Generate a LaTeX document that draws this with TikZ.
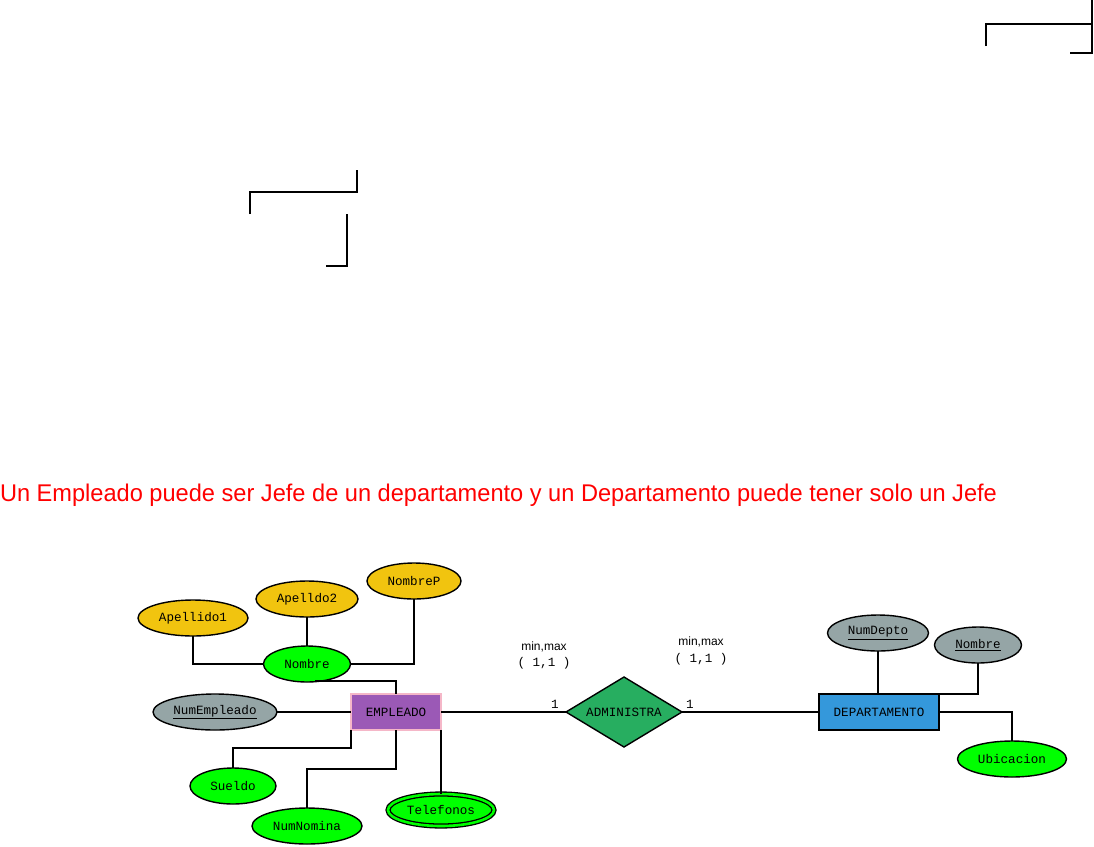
\documentclass[tikz,border=0pt]{standalone}
\usepackage{fontspec}
\setmainfont{Liberation Sans}
\newfontfamily\monof{Liberation Mono}
\usetikzlibrary{shapes.geometric}
\definecolor{cyel}{HTML}{F1C40F}
\definecolor{cgrn}{HTML}{00FF00}
\definecolor{cgray}{HTML}{95A5A6}
\definecolor{cpur}{HTML}{9B59B6}
\definecolor{cpink}{HTML}{F5B7C8}
\definecolor{cdia}{HTML}{27AE60}
\definecolor{cblue}{HTML}{3498DB}
\tikzset{
  every node/.style={outer sep=0pt},
  attr/.style={ellipse, draw=black, line width=1.4pt, inner sep=0pt, font=\monof\fontsize{12.6}{14}\selectfont},
  yel/.style={attr, fill=cyel},
  grn/.style={attr, fill=cgrn},
  gry/.style={attr, fill=cgray},
  ent/.style={rectangle, inner sep=0pt, font=\monof\fontsize{12.6}{14}\selectfont},
  con/.style={line width=1.5pt, draw=black},
  card/.style={font=\monof\fontsize{12.6}{14}\selectfont, inner sep=0pt},
  mm/.style={font=\fontsize{12}{14}\selectfont, inner sep=0pt},
}
\begin{document}
\begin{tikzpicture}[x=1pt,y=-1pt]
\useasboundingbox (0,0) rectangle (1094,846);
% stray lines
\coordinate (s1a) at (250,214); \coordinate (s1b) at (357,170);
\draw[con] (s1a) |- (357,192) -- (s1b);
\coordinate (s2a) at (347,214); \coordinate (s2b) at (326,266);
\draw[con] (s2a) |- (s2b);
\coordinate (s3a) at (986,46); \coordinate (s3b) at (1092,24);
\draw[con] (s3a) |- (s3b);
\coordinate (s4a) at (1092,0); \coordinate (s4b) at (1070,53);
\draw[con] (s4a) |- (s4b);
% title
\node[anchor=base west, inner sep=0pt, text=red] (title) at (0,501) {\resizebox{997pt}{17.5pt}{Un Empleado puede ser Jefe de un departamento y un Departamento puede tener solo un Jefe}};
% attributes of Nombre
\node[yel, minimum width=110pt, minimum height=36pt] (ap1) at (193,618) {Apellido1};
\node[yel, minimum width=102pt, minimum height=36pt] (ap2) at (307,599) {Apelldo2};
\node[yel, minimum width=94pt, minimum height=36pt] (nomp) at (414,581) {NombreP};
\node[grn, minimum width=87pt, minimum height=36pt] (nom) at (307,664) {Nombre};
% entity EMPLEADO
\node[ent, fill=cpur, draw=cpink, line width=1.4pt, minimum width=90pt, minimum height=36pt] (emp) at (396,712) {EMPLEADO};
\node[gry, minimum width=124pt, minimum height=36pt] (nume) at (215,712) {\underline{NumEmpleado}};
\node[grn, minimum width=86pt, minimum height=36pt] (sue) at (233,786) {Sueldo};
\node[grn, minimum width=110pt, minimum height=36pt] (numn) at (307,826) {NumNomina};
\node[grn, minimum width=106pt, minimum height=32pt, double=cgrn, double distance=2.6pt, line width=1.3pt] (tel) at (441,810) {Telefonos};
% relationship
\node[diamond, draw=black, fill=cdia, line width=1.4pt, minimum width=116pt, minimum height=70pt, inner sep=0pt, aspect=1.66, font=\monof\fontsize{12.6}{14}\selectfont] (adm) at (624,712) {ADMINISTRA};
% DEPARTAMENTO
\node[ent, fill=cblue, draw=black, line width=1.6pt, minimum width=120pt, minimum height=36pt] (dep) at (879,712) {DEPARTAMENTO};
\node[gry, minimum width=101pt, minimum height=36pt] (numd) at (878,633) {\underline{NumDepto}};
\node[gry, minimum width=87pt, minimum height=36pt] (nomd) at (978,645) {\underline{Nombre}};
\node[grn, minimum width=109pt, minimum height=36pt] (ubi) at (1012,759) {Ubicacion};
% cardinality labels
\node[mm] (mm1) at (544,647) {min,max};
\node[card] (c1) at (544,663) {( 1,1 )};
\node[mm] (mm2) at (701,642) {min,max};
\node[card] (c2) at (701,659) {( 1,1 )};
\node[card] (o1) at (555,704) {1};
\node[card] (o2) at (690,704) {1};
% connectors
\draw[con] (ap1.south) |- (nom.west);
\draw[con] (ap2.south) -- (nom.north);
\draw[con] (nomp.south) |- (nom.east);
\draw[con] (315,681) -| (emp.north);
\draw[con] (nume.east) -- (emp.west);
\draw[con] (emp.south west) |- (233,748) -- (sue.north);
\draw[con] (emp.south) |- (307,769) -- (numn.north);
\draw[con] (emp.south east) -- (emp.south east |- tel.north);
\draw[con] (emp.east) -- (adm.west);
\draw[con] (adm.east) -- (dep.west);
\draw[con] (numd.south) -- (dep.north -| numd.south);
\draw[con] (nomd.south) |- (dep.north east);
\draw[con] (dep.east) -| (ubi.north);
\end{tikzpicture}
\end{document}
